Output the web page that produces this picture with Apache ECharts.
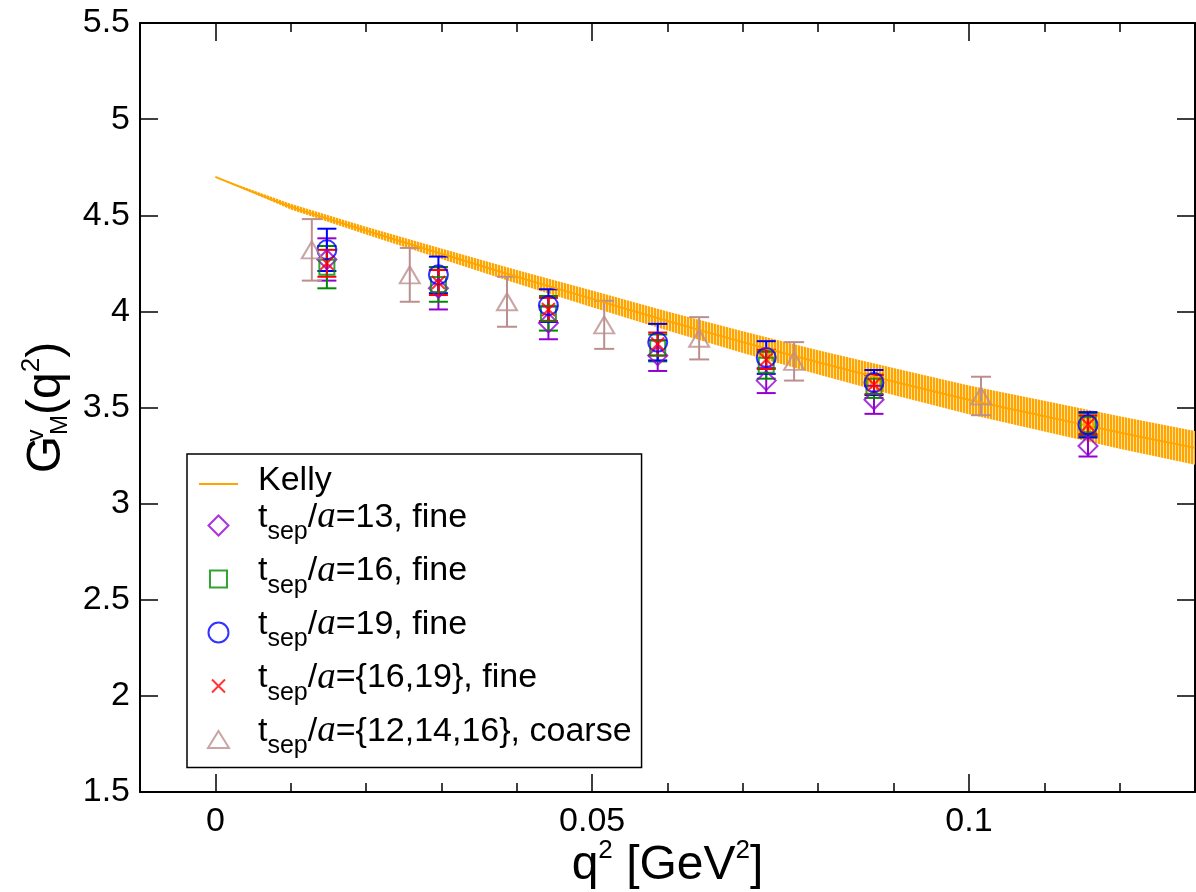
<!DOCTYPE html>
<html>
<head>
<meta charset="utf-8">
<script src="https://cdn.jsdelivr.net/npm/echarts@6/dist/echarts.min.js"></script>
<style>
html,body{margin:0;padding:0;background:#fff;}
#chart{width:1196px;height:892px;}
</style>
</head>
<body>
<div id="chart"></div>
<script>
// ---------------- data ----------------
var kellyQ2  = [0, 0.01, 0.02, 0.03, 0.04, 0.05, 0.06, 0.07, 0.08, 0.09, 0.10, 0.11, 0.12, 0.13];
var kellyMid = [4.70, 4.545, 4.42, 4.30, 4.18, 4.065, 3.95, 3.84, 3.735, 3.635, 3.54, 3.455, 3.37, 3.29];
var kellyErr = [0.0, 0.015, 0.02, 0.027, 0.035, 0.043, 0.05, 0.057, 0.063, 0.07, 0.075, 0.08, 0.085, 0.088];

var fineQ2   = [0.0148, 0.0296, 0.0442, 0.0587, 0.0731, 0.0874, 0.1158];
var coarseQ2 = [0.0128, 0.0258, 0.0387, 0.0516, 0.0642, 0.0768, 0.1016];

var t13Val  = [4.27, 4.12, 3.94, 3.77, 3.64, 3.54, 3.30];
var t13Err  = [0.11, 0.11, 0.085, 0.08, 0.065, 0.073, 0.055];
var t16Val  = [4.23, 4.14, 3.99, 3.81, 3.72, 3.61, 3.41];
var t16Err  = [0.11, 0.09, 0.09, 0.07, 0.07, 0.06, 0.06];
var t19Val  = [4.32, 4.19, 4.03, 3.84, 3.76, 3.63, 3.41];
var t19Err  = [0.11, 0.095, 0.085, 0.095, 0.085, 0.065, 0.066];
var t1619Val = [4.25, 4.15, 4.01, 3.83, 3.75, 3.62, 3.41];
var t1619Err = [0.07, 0.065, 0.06, 0.06, 0.05, 0.05, 0.048];
var coarseVal = [4.32, 4.19, 4.05, 3.93, 3.86, 3.74, 3.56];
var coarseErr = [0.16, 0.14, 0.13, 0.125, 0.11, 0.10, 0.10];

var xMajorTicks = [0, 0.05, 0.1];
var xMinorTicks = [0.01, 0.02, 0.03, 0.04, 0.06, 0.07, 0.08, 0.09, 0.11, 0.12];

// ---------------- helpers ----------------
var FONT = 'Liberation Sans';
function pts(xs, ys) { return xs.map(function (x, i) { return [x, ys[i]]; }); }
function errPts(xs, ys, es) { return xs.map(function (x, i) { return [x, ys[i] - es[i], ys[i] + es[i]]; }); }

function errSeries(xs, ys, es, color, capHalf) {
  return {
    type: 'custom', silent: true, animation: false,
    xAxisIndex: 0, yAxisIndex: 0,
    data: errPts(xs, ys, es),
    encode: { x: 0, y: [1, 2] },
    renderItem: function (params, api) {
      var x = api.value(0), lo = api.value(1), hi = api.value(2);
      var p1 = api.coord([x, lo]), p2 = api.coord([x, hi]);
      var st = { stroke: color, lineWidth: 2, fill: null };
      return { type: 'group', children: [
        { type: 'line', shape: { x1: p1[0], y1: p1[1], x2: p2[0], y2: p2[1] }, style: st },
        { type: 'line', shape: { x1: p1[0] - capHalf, y1: p1[1], x2: p1[0] + capHalf, y2: p1[1] }, style: st },
        { type: 'line', shape: { x1: p2[0] - capHalf, y1: p2[1], x2: p2[0] + capHalf, y2: p2[1] }, style: st }
      ]};
    }
  };
}
function markSeries(name, xs, ys, symbol, size, color) {
  return {
    name: name, type: 'scatter', animation: false,
    xAxisIndex: 0, yAxisIndex: 0,
    data: pts(xs, ys), symbol: symbol, symbolSize: size, symbolKeepAspect: true,
    itemStyle: { color: 'transparent', borderColor: color, borderWidth: 2 },
    emphasis: { disabled: true }
  };
}

// stripe pattern for the Kelly band
var pc = document.createElement('canvas');
pc.width = 3; pc.height = 2;
var pctx = pc.getContext('2d');
pctx.fillStyle = '#ffa500'; pctx.fillRect(0, 0, 2, 2);
pctx.fillStyle = '#ffdf9e'; pctx.fillRect(2, 0, 1, 2);

var C13 = '#9400d3', C16 = '#008c00', C19 = '#0000ff', C1619 = '#ff0000', CC = '#bc8f8f', CK = '#ffa500';
var X_PATH = 'path://M0,0L10,10M10,0L0,10';
// legend icons (padded so that they keep the reference sizes inside a 20px tall box)
var ICON_X = 'path://M-2.7,-2.7L-2.7,-2.7M12.7,12.7L12.7,12.7M0,0L10,10M10,0L0,10';
var ICON_D = 'path://M10,0L20,10L10,20L0,10Z';
var ICON_S = 'path://M0,0L0,0M20,20L20,20M1.5,1.5L18.5,1.5L18.5,18.5L1.5,18.5Z';
var ICON_T = 'path://M0,-1.5L0,-1.5M0,18.5L0,18.5M10.5,0L21,17L0,17Z';

var legendLabels = {
  kelly:  '{k|Kelly}',
  t13:    't{s|sep}/{a|a}=13, fine',
  t16:    't{s|sep}/{a|a}=16, fine',
  t19:    't{s|sep}/{a|a}=19, fine',
  t1619:  't{s|sep}/{a|a}={16,19}, fine',
  coarse: 't{s|sep}/{a|a}={12,14,16}, coarse'
};

var option = {
  animation: false,
  backgroundColor: '#fff',
  grid: { left: 140, right: 1, top: 23, bottom: 100, containLabel: false, outerBoundsMode: 'none' },
  xAxis: [
    { type: 'value', position: 'bottom', min: -0.01, max: 0.13,
      axisLine: { show: true, onZero: false, lineStyle: { color: '#000', width: 2 } },
      axisTick: { show: true, inside: true, length: 18, customValues: xMajorTicks, lineStyle: { color: '#000', width: 1.5 } },
      axisLabel: { show: true, customValues: xMajorTicks, fontSize: 34, fontFamily: FONT, color: '#000', margin: 13,
        formatter: function (v) { return String(+v.toFixed(4)); } },
      splitLine: { show: false },
      name: '{m|q}{sp|2}{m|\u00a0[GeV}{sp|2}{m|]}', nameLocation: 'middle', nameGap: 46, nameMoveOverlap: false,
      nameTextStyle: { fontFamily: FONT, color: '#000', fontSize: 48,
        rich: { m: { fontSize: 48, lineHeight: 56, fontFamily: FONT, color: '#000' },
                sp: { fontSize: 26, lineHeight: 26, padding: [0, 0, 31, 0], fontFamily: FONT, color: '#000' } } }
    },
    { type: 'value', position: 'bottom', min: -0.01, max: 0.13,
      axisLine: { show: false, onZero: false },
      axisTick: { show: true, inside: true, length: 9, customValues: xMinorTicks, lineStyle: { color: '#000', width: 1.5 } },
      axisLabel: { show: false }, splitLine: { show: false } },
    { type: 'value', position: 'top', min: -0.01, max: 0.13,
      axisLine: { show: true, onZero: false, lineStyle: { color: '#000', width: 2 } },
      axisTick: { show: true, inside: true, length: 18, customValues: xMajorTicks, lineStyle: { color: '#000', width: 1.5 } },
      axisLabel: { show: false }, splitLine: { show: false } },
    { type: 'value', position: 'top', min: -0.01, max: 0.13,
      axisLine: { show: false, onZero: false },
      axisTick: { show: true, inside: true, length: 9, customValues: xMinorTicks, lineStyle: { color: '#000', width: 1.5 } },
      axisLabel: { show: false }, splitLine: { show: false } }
  ],
  yAxis: [
    { type: 'value', position: 'left', min: 1.5, max: 5.5, interval: 0.5,
      axisLine: { show: true, onZero: false, lineStyle: { color: '#000', width: 2 } },
      axisTick: { show: true, inside: true, length: 18, lineStyle: { color: '#000', width: 1.5 } },
      axisLabel: { show: true, fontSize: 34, fontFamily: FONT, color: '#000', margin: 10, showMinLabel: true, showMaxLabel: true },
      splitLine: { show: false },
      name: '{g|G}{v|v}{mm|M}{g|(q}{sp|2}{g|)}', nameLocation: 'middle', nameRotate: 90, nameGap: 65, nameMoveOverlap: false,
      nameTextStyle: { fontFamily: FONT, color: '#000', fontSize: 48,
        rich: { g: { fontSize: 48, lineHeight: 56, fontFamily: FONT, color: '#000' },
                v: { fontSize: 24, lineHeight: 4, width: 1, padding: [0, 0, 22, 0], fontFamily: FONT, color: '#000' },
                mm: { fontSize: 24, lineHeight: 4, padding: [26, 0, 0, 0], fontFamily: FONT, color: '#000' },
                sp: { fontSize: 26, lineHeight: 26, padding: [0, 0, 31, 0], fontFamily: FONT, color: '#000' } } }
    },
    { type: 'value', position: 'right', min: 1.5, max: 5.5, interval: 0.5,
      axisLine: { show: true, onZero: false, lineStyle: { color: '#000', width: 2 } },
      axisTick: { show: true, inside: true, length: 18, lineStyle: { color: '#000', width: 1.5 } },
      axisLabel: { show: false }, splitLine: { show: false } }
  ],
  legend: {
    show: true, orient: 'vertical', left: 187, top: 454,
    padding: [0, 10, 2, 11], itemGap: -8, itemWidth: 39, itemHeight: 20,
    symbolKeepAspect: true,
    backgroundColor: '#fff', borderColor: '#000', borderWidth: 1.5, borderRadius: 0,
    selectedMode: false,
    data: [
      { name: 'kelly' },
      { name: 't13', icon: ICON_D },
      { name: 't16', icon: ICON_S },
      { name: 't19' },
      { name: 't1619', icon: ICON_X },
      { name: 'coarse', icon: ICON_T }
    ],
    formatter: function (n) { return legendLabels[n]; },
    textStyle: {
      fontFamily: FONT, fontSize: 34, lineHeight: 36, color: '#000', padding: [0, 0, 16, 15],
      rich: {
        k: { fontFamily: FONT, fontSize: 34, lineHeight: 12, padding: [10, 0, 0, 0], color: '#000' },
        s: { fontFamily: FONT, fontSize: 25, lineHeight: 4, padding: [30, 0, 0, 0], color: '#000' },
        a: { fontFamily: 'Liberation Serif', fontStyle: 'italic', fontSize: 37, lineHeight: 36, color: '#000' }
      }
    }
  },
  series: [
    { // Kelly uncertainty band (hatched)
      type: 'custom', silent: true, animation: false, z: 1,
      xAxisIndex: 0, yAxisIndex: 0,
      data: [[kellyQ2[0], kellyMid[0]]],
      encode: { x: 0, y: 1 },
      clip: true,
      renderItem: function (params, api) {
        var up = [], dn = [];
        for (var i = 0; i < kellyQ2.length; i++) {
          up.push(api.coord([kellyQ2[i], kellyMid[i] + kellyErr[i]]));
          dn.push(api.coord([kellyQ2[i], kellyMid[i] - kellyErr[i]]));
        }
        return { type: 'polygon', shape: { points: up.concat(dn.reverse()) },
                 style: { fill: { image: pc, repeat: 'repeat' }, stroke: null } };
      }
    },
    { name: 'kelly', type: 'line', xAxisIndex: 0, yAxisIndex: 0, z: 2,
      data: pts(kellyQ2, kellyMid), symbol: 'none', smooth: 0.3,
      lineStyle: { color: CK, width: 2 }, itemStyle: { color: 'transparent', borderWidth: 0 },
      emphasis: { disabled: true } },
    errSeries(fineQ2, t13Val, t13Err, C13, 9.5),
    markSeries('t13', fineQ2, t13Val, 'diamond', 19, C13),
    errSeries(fineQ2, t16Val, t16Err, C16, 9.5),
    markSeries('t16', fineQ2, t16Val, 'rect', 15, C16),
    errSeries(fineQ2, t19Val, t19Err, C19, 9.5),
    markSeries('t19', fineQ2, t19Val, 'circle', 19, C19),
    errSeries(fineQ2, t1619Val, t1619Err, C1619, 9.5),
    markSeries('t1619', fineQ2, t1619Val, X_PATH, 13, C1619),
    errSeries(coarseQ2, coarseVal, coarseErr, CC, 10),
    markSeries('coarse', coarseQ2, coarseVal, 'triangle', [20, 17], CC)
  ]
};

var chart = echarts.init(document.getElementById('chart'), null, { renderer: 'canvas' });
chart.setOption(option);
</script>
</body>
</html>
